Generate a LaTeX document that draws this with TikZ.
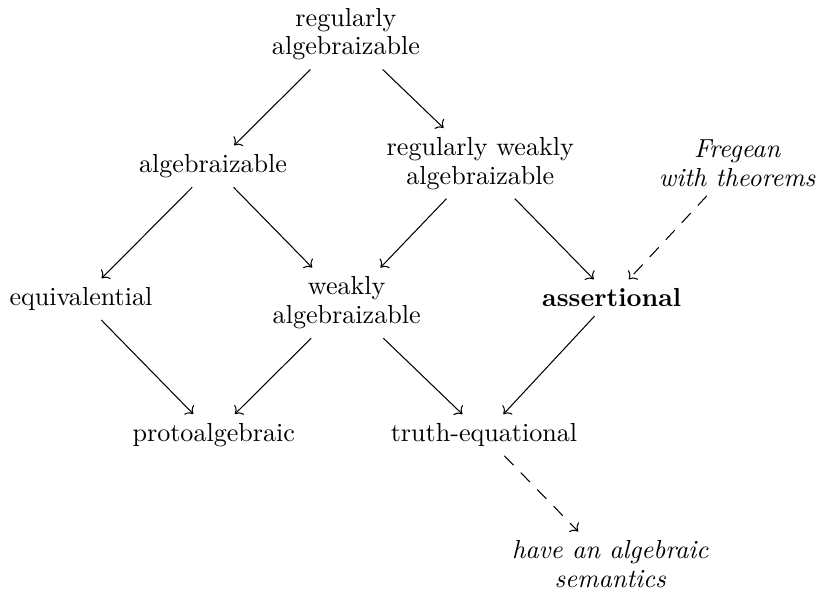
\documentclass[tikz,border=0pt]{standalone}
\usepackage{tikz}
\usetikzlibrary{arrows.meta,positioning,calc}
\tikzset{
  every picture/.append style={>={Computer Modern Rightarrow}},
  cls/.style={rectangle, align=center, font=\fontsize{10}{11}\selectfont},
  ext/.style={cls, font=\fontsize{10}{11}\selectfont\itshape},
  imp/.style={->, line width=0.4pt},
  impD/.style={imp, dash pattern=on 5pt off 4pt},
}
\begin{document}
\begin{tikzpicture}[x=1cm,y=1cm]
\useasboundingbox (0,0) rectangle (11.14,-7.96);

% ---------------- classes -------------------------------------------------------
\node[cls] (ra)  at (4.66,-0.46) {regularly\\ algebraizable};
\node[cls] (alg) at (2.87,-2.24) {algebraizable};
\node[cls] (rwa) at (6.47,-2.20) {regularly weakly\\ algebraizable};
\node[ext] (fwt) at (9.93,-2.20) {Fregean\\ with theorems};
\node[cls] (eqv) at (1.09,-4.03) {equivalential};
\node[cls] (wa)  at (4.67,-4.08) {weakly\\ algebraizable};
\node[cls] (ast) at (8.24,-4.01) {\textbf{assertional}};
\node[cls] (pro) at (2.88,-5.86) {protoalgebraic};
\node[cls] (te)  at (6.52,-5.86) {truth-equational};
\node[ext] (aas) at (8.22,-7.60) {have an algebraic\\ semantics};

% ---------------- implications ---------------------------------------------------
\draw[imp] (ra) -- (alg);
\draw[imp] (ra) -- (rwa);
\draw[imp] (alg) -- (eqv);
\draw[imp] (alg) -- (wa);
\draw[imp] (rwa) -- (wa);
\draw[imp] (rwa) -- (ast);
\draw[impD] (fwt) -- (ast);
\draw[imp] (eqv) -- (pro);
\draw[imp] (wa) -- (pro);
\draw[imp] (wa) -- (te);
\draw[imp] (ast) -- (te);
\draw[impD] (te) -- (aas);

\end{tikzpicture}
\end{document}
